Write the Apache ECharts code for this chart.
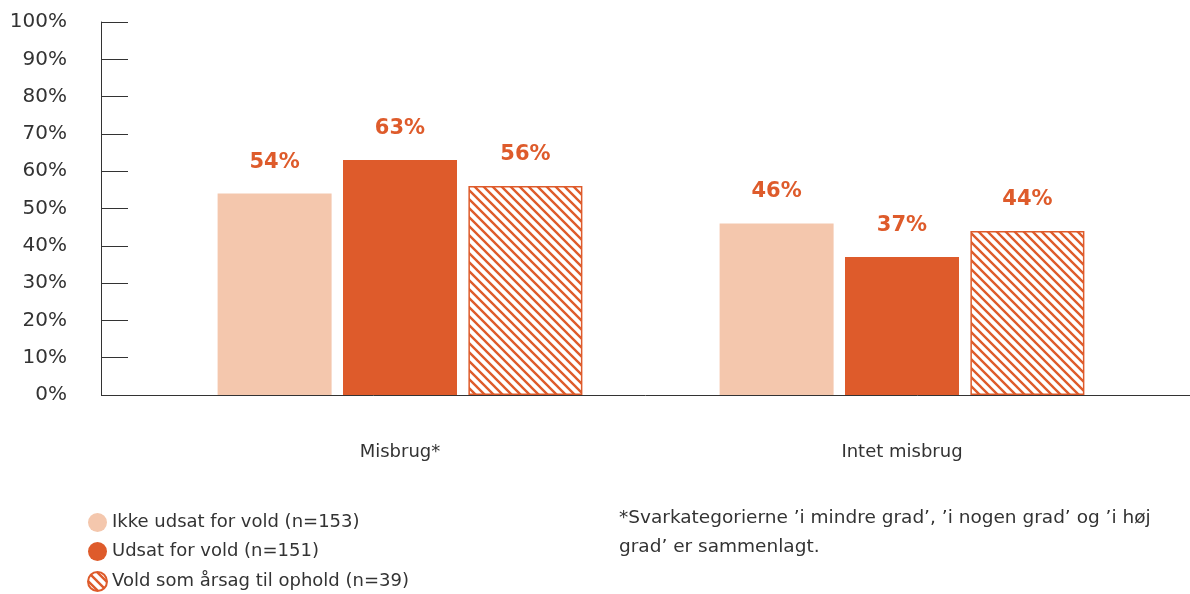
<!DOCTYPE html>
<html>
<head>
<meta charset="utf-8">
<script src="https://cdn.jsdelivr.net/npm/echarts@6/dist/echarts.min.js"></script>
<style>
  html, body { margin: 0; padding: 0; background: #fff; }
  #chart { width: 1190px; height: 594px; }
</style>
</head>
<body>
<div id="chart"></div>
<script>
  var categories = ['Misbrug*', 'Intet misbrug']
  var seriesNames = ['Ikke udsat for vold (n=153)', 'Udsat for vold (n=151)', 'Vold som årsag til ophold (n=39)']
  var ikkeUdsat = [54, 46]
  var udsat = [63, 37]
  var voldAarsag = [56, 44]
  var footnote = '*Svarkategorierne ’i mindre grad’, ’i nogen grad’ og ’i høj\ngrad’ er sammenlagt.'

  var light = '#f4c7ad'
  var orange = '#de5b2b'
  var font = 'DejaVu Sans'

  // hatch pattern for the third series
  function hatch() {
    var c = document.createElement('canvas')
    var s = 9
    c.width = s; c.height = s
    var ctx = c.getContext('2d')
    ctx.fillStyle = '#fff'
    ctx.fillRect(0, 0, s, s)
    ctx.strokeStyle = orange
    ctx.lineWidth = 2.4
    ctx.beginPath()
    ctx.moveTo(-2, -2); ctx.lineTo(s + 2, s + 2)
    ctx.moveTo(-2, s - 2); ctx.lineTo(2, s + 2)
    ctx.moveTo(s - 2, -2); ctx.lineTo(s + 2, 2)
    ctx.stroke()
    return c
  }

  var label = {
    show: true,
    position: 'top',
    distance: 21,
    formatter: '{c}%',
    color: orange,
    fontFamily: font,
    fontWeight: 'bold',
    fontSize: 21
  }

  var chart = echarts.init(document.getElementById('chart'))
  chart.setOption({
    animation: false,
    textStyle: { fontFamily: font },
    grid: { left: 149, right: 37, top: 22, bottom: 199 },
    legend: {
      orient: 'vertical',
      left: 82,
      top: 508,
      height: 90,
      itemWidth: 19,
      itemHeight: 19,
      itemGap: 10,
      icon: 'circle',
      textStyle: { color: '#333', fontSize: 18, fontFamily: font },
      data: seriesNames
    },
    title: {
      text: footnote,
      left: 614,
      top: 499,
      textStyle: { color: '#333', fontSize: 18.5, fontWeight: 'normal', lineHeight: 29, fontFamily: font }
    },
    xAxis: {
      type: 'category',
      data: categories,
      axisLine: { show: false },
      axisTick: { show: false },
      axisLabel: { margin: 48, color: '#333', fontSize: 18, fontFamily: font }
    },
    yAxis: {
      type: 'value',
      min: 0,
      max: 100,
      interval: 10,
      offset: 48,
      splitLine: { show: false },
      axisLine: { show: true, lineStyle: { color: '#333', width: 1 } },
      axisTick: { show: true, inside: true, length: 27, lineStyle: { color: '#333' } },
      axisLabel: { formatter: '{value}%', margin: 34, color: '#333', fontSize: 20, fontFamily: font }
    },
    graphic: [{
      type: 'line',
      shape: { x1: 101, y1: 395.5, x2: 1190, y2: 395.5 },
      style: { stroke: '#333', lineWidth: 1 }
    }],
    series: [
      {
        name: seriesNames[0], type: 'bar', data: ikkeUdsat,
        barWidth: 114, barGap: '10%',
        itemStyle: { color: light },
        label: label
      },
      {
        name: seriesNames[1], type: 'bar', data: udsat,
        barWidth: 114, barGap: '10%',
        itemStyle: { color: orange },
        label: label
      },
      {
        name: seriesNames[2], type: 'bar', data: voldAarsag,
        barWidth: 114, barGap: '10%',
        itemStyle: { color: { image: hatch(), repeat: 'repeat' }, borderColor: orange, borderWidth: 1.5 },
        label: label
      }
    ]
  })
</script>
</body>
</html>
